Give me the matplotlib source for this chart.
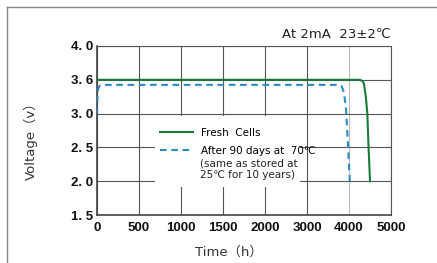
"""Discharge curve: fresh cells vs. cells after 90 days at 70C."""

import matplotlib
matplotlib.use("Agg")
import matplotlib.pyplot as plt
import numpy as np
from matplotlib.lines import Line2D
from matplotlib.patches import Rectangle

# axis breakpoints (the original chart uses uneven scales)
x_ticks = [0, 500, 1000, 1500, 2000, 3000, 4000, 5000]
x_ticklabels = ["0", "500", "1000", "1500", "2000", "3000", "4000", "5000"]
y_ticks = [1.5, 2.0, 2.5, 3.0, 3.6, 4.0]
y_ticklabels = ["1. 5", "2. 0", "2. 5", "3. 0", "3. 6", "4. 0"]

# fresh cells
fresh_time = [0, 1000, 2000, 3000, 4000, 4250, 4320, 4355, 4370, 4400, 4436, 4465, 4500]
fresh_volt = [3.6, 3.6, 3.6, 3.6, 3.6, 3.6, 3.58, 3.53, 3.45, 3.3, 3.0, 2.5, 2.0]

# after 90 days at 70C
aged_time = [0, 5, 15, 35, 80, 1000, 2000, 3000, 3750, 3820, 3860, 3890, 3921, 3935, 3978, 4020]
aged_volt = [3.0, 3.3, 3.45, 3.5, 3.51, 3.51, 3.51, 3.51, 3.51, 3.49, 3.42, 3.3, 3.16, 3.0, 2.5, 2.0]

GREEN = "#1b7a3a"
BLUE = "#2b8bc6"
GRID = "#555555"
TEXT_FONT = ["DejaVu Sans", "Noto Sans CJK JP"]
TICK_FONT = ["Liberation Sans", "DejaVu Sans"]


def piecewise_scale(vals):
    vals = np.asarray(vals, dtype=float)
    n = len(vals)
    big = 1000.0
    v = np.concatenate([[vals[0] - big * (vals[1] - vals[0])], vals,
                        [vals[-1] + big * (vals[-1] - vals[-2])]])
    p = np.concatenate([[-big], np.arange(n, dtype=float), [n - 1 + big]])

    def forward(x):
        return np.interp(x, v, p)

    def inverse(x):
        return np.interp(x, p, v)

    return forward, inverse


fig = plt.figure(figsize=(4.37, 2.63), dpi=100)
ax = fig.add_axes([0.222, 0.1825, 0.6728, 0.6426])

ax.set_xscale("function", functions=piecewise_scale(x_ticks))
ax.set_yscale("function", functions=piecewise_scale(y_ticks))

ax.plot(fresh_time, fresh_volt, color=GREEN, lw=1.5, zorder=3,
        solid_joinstyle="round")
ax.plot(aged_time, aged_volt, color=BLUE, lw=1.5, dashes=(3.2, 2.2), zorder=3)

ax.set_xlim(0, 5000)
ax.set_ylim(1.5, 4.0)
ax.set_xticks(x_ticks)
ax.set_xticklabels(x_ticklabels)
ax.set_yticks(y_ticks)
ax.set_yticklabels(y_ticklabels)
ax.minorticks_off()
ax.tick_params(axis="x", length=0, pad=5, labelsize=9.5, colors="#111111")
ax.tick_params(axis="y", length=0, pad=3, labelsize=9.5, colors="#111111")
for lab in ax.get_xticklabels() + ax.get_yticklabels():
    lab.set_fontfamily(TICK_FONT)
    lab.set_fontweight("bold")

ax.set_axisbelow(True)
ax.grid(True, color=GRID, lw=0.8)
ax.get_xgridlines()[6].set_color("#bbbbbb")
for side in ("top", "right"):
    ax.spines[side].set_color(GRID)
    ax.spines[side].set_linewidth(0.8)
for side in ("left", "bottom"):
    ax.spines[side].set_color("#444444")
    ax.spines[side].set_linewidth(1.2)

# white block behind the legend hides the grid there
ax.add_patch(Rectangle((0.197, 0.166), 0.493, 0.42, transform=ax.transAxes,
                       facecolor="white", edgecolor="none", zorder=1))

handles = [Line2D([], [], color=GREEN, lw=1.5),
           Line2D([], [], color=BLUE, lw=1.5, dashes=(3.2, 2.2))]
labels = ["Fresh  Cells", "After 90 days at  70\u2103"]
ax.legend(handles, labels, loc="upper left", bbox_to_anchor=(0.214, 0.515),
          frameon=False, prop={"family": TEXT_FONT, "size": 7.5},
          handlelength=3.2, handletextpad=0.7, labelspacing=0.75,
          borderpad=0, borderaxespad=0)
ax.text(0.350, 0.335, "(same as stored at\n25\u2103 for 10 years)",
        transform=ax.transAxes, ha="left", va="top", fontsize=7.5,
        family=TEXT_FONT, linespacing=1.2, color="#222222")

ax.set_xlabel("Time\uff08h\uff09", fontsize=9.5, family=TEXT_FONT, color="#333333")
ax.xaxis.set_label_coords(0.449, -0.18)
ax.set_ylabel("Voltage\uff08v\uff09", fontsize=9.5, family=TEXT_FONT, color="#333333")
ax.yaxis.set_label_coords(-0.20, 0.456)

fig.text(391 / 437, 1 - 34 / 263, "At 2mA  23\u00b12\u2103", ha="right", va="center",
         fontsize=9.5, family=TEXT_FONT, color="#222222")

# thin grey frame around the figure (top and left edges visible)
fig.add_artist(Line2D([7 / 437, 1], [1 - 7 / 263, 1 - 7 / 263], color="#888888",
                      lw=1, transform=fig.transFigure))
fig.add_artist(Line2D([7 / 437, 7 / 437], [0, 1 - 7 / 263], color="#888888",
                      lw=1, transform=fig.transFigure))

fig.savefig("out.png", dpi=100)
